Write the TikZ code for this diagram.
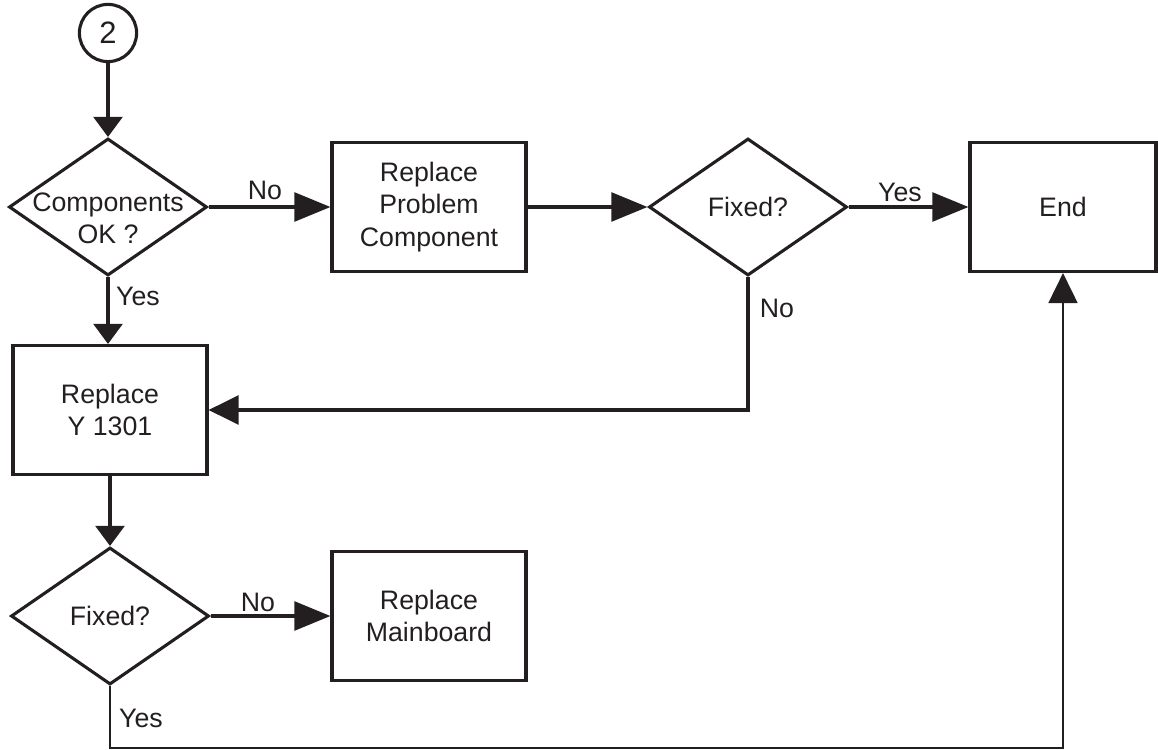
\documentclass[tikz,border=0pt]{standalone}
\usepackage{fontspec}
\setmainfont{Liberation Sans}
\usetikzlibrary{shapes.geometric,arrows.meta}
\definecolor{ink}{RGB}{35,31,32}
\tikzset{
	box/.style={draw=ink, line width=2.2pt, minimum width=4.85cm, minimum height=3.225cm, align=center, inner sep=0pt},
	decision/.style={draw=ink, line width=2.2pt, diamond, minimum width=4.95cm, minimum height=3.425cm, inner sep=0pt, align=center},
	flow/.style={draw=ink, line width=2.2pt, -{Triangle[length=0.5cm, width=0.72cm]}},
	flowmid/.style={draw=ink, line width=2.2pt, -{Triangle[length=0.75cm, width=0.72cm]}},
	flowlong/.style={draw=ink, line width=2.2pt, -{Triangle[length=0.9cm, width=0.72cm]}},
	lbl/.style={text=ink, inner sep=0pt}
}

\begin{document}
\begin{tikzpicture}[x=0.025cm, y=-0.025cm, font=\fontsize{19}{23}\selectfont, text=ink]
			%%%%% START %%%%%
			\def\xa{108}
			\def\xb{429}
			\def\xc{748}
			\def\xd{1063}
			\def\ya{207}
			\def\yb{410}
			\def\yc{616}
			\def\ybot{748}
			
			\useasboundingbox (0,0) rectangle (1158,750);
			
			\node[draw=ink, line width=2.2pt, circle, minimum size=1.43cm, inner sep=0pt, font=\fontsize{22}{26}\selectfont] (start) at (\xa,33) {2};
			
			\node[decision] (comp) at (\xa,\ya) {};
			\node[lbl, align=center] (comptxt) at (\xa,\ya+11) {Components\\OK ?};
			\node[box] (prob) at (\xb,\ya) {Replace\\Problem\\Component};
			\node[decision] (fixa) at (\xc,\ya) {Fixed?};
			\node[box, minimum width=4.65cm] (end) at (\xd,\ya) {End};
			
			\node[box] (yrep) at (\xa+2,\yb) {Replace\\Y 1301};
			
			\node[decision] (fixb) at (\xa+2,\yc) {Fixed?};
			\node[box] (main) at (\xb,\yc) {Replace\\Mainboard};
			
			\coordinate (botline) at (600,\ybot);
			
			\draw[flow] (start) -- (comp.north);
			\draw[flowlong] (comp.east) -- (prob.west);
			\draw[flowlong] (prob.east) -- (fixa.west);
			\draw[flowlong] (fixa.east) -- (end.west);
			\draw[flow] (comp.south) -- (comp.south |- yrep.north);
			\draw[flowmid] (fixa.south) |- (yrep.east);
			\draw[flow] (yrep.south) -- (fixb.north);
			\draw[flowlong] (fixb.east) -- (main.west);
			\draw[flowmid, line width=1.8pt] (fixb.south) |- (botline) -| (end.south);
			
			\node[lbl] (nocomp) at (265,190) {No};
			\node[lbl] (yescomp) at (138,296) {Yes};
			\node[lbl] (yesfixa) at (900,192) {Yes};
			\node[lbl] (nofixa) at (777,308) {No};
			\node[lbl] (nofixb) at (258,602) {No};
			\node[lbl] (yesfixb) at (141,718) {Yes};
			%%%%% END %%%%%
\end{tikzpicture}
\end{document}
